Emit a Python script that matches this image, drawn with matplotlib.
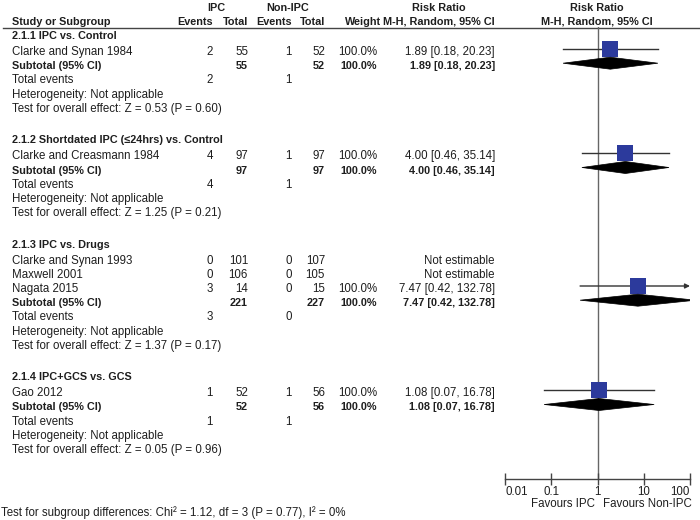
import numpy as np
import matplotlib
matplotlib.use("Agg")
import matplotlib.pyplot as plt
from matplotlib.patches import Polygon
from matplotlib.ticker import NullLocator

# ---------------- data ----------------
group_titles = ["2.1.1 IPC vs. Control",
                "2.1.2 Shortdated IPC (\u226424hrs) vs. Control",
                "2.1.3 IPC vs. Drugs",
                "2.1.4 IPC+GCS vs. GCS"]
study_names = ["Clarke and Synan 1984", "Clarke and Creasmann 1984",
               "Clarke and Synan 1993", "Maxwell 2001", "Nagata 2015", "Gao 2012"]
study_group = [0, 1, 2, 2, 2, 3]
ipc_events = [2, 4, 0, 0, 3, 1]
ipc_total = [55, 97, 101, 106, 14, 52]
non_events = [1, 1, 0, 0, 0, 1]
non_total = [52, 97, 107, 105, 15, 56]
study_weight = [100.0, 100.0, None, None, 100.0, 100.0]
study_rr = [1.89, 4.00, None, None, 7.47, 1.08]
study_lo = [0.18, 0.46, None, None, 0.42, 0.07]
study_hi = [20.23, 35.14, None, None, 132.78, 16.78]

sub_ipc_total = [55, 97, 221, 52]
sub_non_total = [52, 97, 227, 56]
sub_ipc_events = [2, 4, 3, 1]
sub_non_events = [1, 1, 0, 1]
sub_weight = [100.0, 100.0, 100.0, 100.0]
sub_rr = [1.89, 4.00, 7.47, 1.08]
sub_lo = [0.18, 0.46, 0.42, 0.07]
sub_hi = [20.23, 35.14, 132.78, 16.78]
z_vals = ["0.53", "1.25", "1.37", "0.05"]
p_vals = ["0.60", "0.21", "0.17", "0.96"]

tick_values = [0.01, 0.1, 1, 10, 100]
tick_labels = ["0.01", "0.1", "1", "10", "100"]
subgroup_test = "Test for subgroup differences: Chi\u00b2 = 1.12, df = 3 (P = 0.77), I\u00b2 = 0%"

# ---------------- style ----------------
FS = 8.3
FSB = 7.8
TXT = "#1e1e1e"
SQ = "#2c3a9c"
plt.rcParams['font.family'] = ['Liberation Sans', 'DejaVu Sans']

W, H = 700, 520
fig = plt.figure(figsize=(W / 100, H / 100), dpi=100)
bg = fig.add_axes([0, 0, 1, 1])
bg.set_xlim(0, W)
bg.set_ylim(H, 0)
bg.axis("off")

# forest axes (pixel-mapped vertically)
px_l, px_r, px_t, px_b = 505, 690, 27, 479
ax = fig.add_axes([px_l / W, (H - px_b) / H, (px_r - px_l) / W, (px_b - px_t) / H])
ax.set_xscale("log")
ax.set_xlim(0.01, 100)
ax.set_ylim(px_b, px_t)
ax.patch.set_alpha(0)
for s in ["top", "right", "left"]:
    ax.spines[s].set_visible(False)
ax.spines["bottom"].set_color("#444444")
ax.spines["bottom"].set_linewidth(1)
ax.set_yticks([])
ax.set_xticks(tick_values)
ax.set_xticklabels(tick_labels)
ax.xaxis.set_minor_locator(NullLocator())
ax.tick_params(axis="x", direction="inout", length=8, width=1, color="#444444",
               labelsize=FS, labelcolor=TXT, pad=1)
lbls = ax.get_xticklabels()
lbls[0].set_ha("left")
lbls[-1].set_ha("right")
ax.axvline(1, color="#666666", lw=1, zorder=1)

# column positions (right edges)
X_LEFT = 12
X_IPC_E, X_IPC_T, X_NON_E, X_NON_T, X_W, X_RR = 213, 248, 292, 325, 377, 495


def txt(x, y, s, ha="left", bold=False, **kw):
    bg.text(x, y, s, ha=ha, va="center", fontsize=FSB if bold else FS, color=TXT,
            fontweight="bold" if bold else "normal", **kw)


# headers
txt(216, 8, "IPC", ha="center", bold=True)
txt(288, 8, "Non-IPC", ha="center", bold=True)
txt(439, 8, "Risk Ratio", ha="center", bold=True)
txt(597, 8, "Risk Ratio", ha="center", bold=True)
txt(X_LEFT, 22, "Study or Subgroup", bold=True)
txt(X_IPC_E, 22, "Events", ha="right", bold=True)
txt(X_IPC_T, 22, "Total", ha="right", bold=True)
txt(X_NON_E, 22, "Events", ha="right", bold=True)
txt(X_NON_T, 22, "Total", ha="right", bold=True)
txt(381, 22, "Weight", ha="right", bold=True)
txt(X_RR, 22, "M-H, Random, 95% CI", ha="right", bold=True)
txt(597, 22, "M-H, Random, 95% CI", ha="center", bold=True)
bg.plot([3, 700], [27.5, 27.5], color="#444444", lw=1)

MK_OFF = -3
y = 36.0
for g, title in enumerate(group_titles):
    txt(X_LEFT, y, title, bold=True)
    y += 16
    for i, name in enumerate(study_names):
        if study_group[i] != g:
            continue
        txt(X_LEFT, y, name)
        txt(X_IPC_E, y, str(ipc_events[i]), ha="right")
        txt(X_IPC_T, y, str(ipc_total[i]), ha="right")
        txt(X_NON_E, y, str(non_events[i]), ha="right")
        txt(X_NON_T, y, str(non_total[i]), ha="right")
        if study_rr[i] is None:
            txt(X_RR, y, "Not estimable", ha="right")
        else:
            txt(X_W, y, f"{study_weight[i]:.1f}%", ha="right")
            txt(X_RR, y, f"{study_rr[i]:.2f} [{study_lo[i]:.2f}, {study_hi[i]:.2f}]", ha="right")
            ym = y + MK_OFF
            if study_hi[i] > 100:
                ax.annotate("", xy=(100, ym), xytext=(study_lo[i], ym),
                            arrowprops=dict(arrowstyle="-|>", lw=1, color="#333333",
                                            mutation_scale=7, shrinkA=0, shrinkB=0),
                            annotation_clip=False, zorder=2)
            else:
                ax.plot([study_lo[i], study_hi[i]], [ym, ym], color="#333333", lw=1, zorder=2)
            ax.plot([study_rr[i]], [ym], marker="s", markersize=12.2, color=SQ,
                    markeredgewidth=0, zorder=3, clip_on=False)
        y += 14.2
    # subtotal
    txt(X_LEFT, y, "Subtotal (95% CI)", bold=True)
    txt(X_IPC_T, y, str(sub_ipc_total[g]), ha="right", bold=True)
    txt(X_NON_T, y, str(sub_non_total[g]), ha="right", bold=True)
    txt(X_W, y, f"{sub_weight[g]:.1f}%", ha="right", bold=True)
    txt(X_RR, y, f"{sub_rr[g]:.2f} [{sub_lo[g]:.2f}, {sub_hi[g]:.2f}]", ha="right", bold=True)
    ym = y + MK_OFF
    dia = Polygon([(sub_lo[g], ym), (sub_rr[g], ym - 6), (sub_hi[g], ym), (sub_rr[g], ym + 6)],
                  closed=True, facecolor="black", edgecolor="black", lw=0.5, zorder=4)
    ax.add_patch(dia)
    y += 14.2
    txt(X_LEFT, y, "Total events")
    txt(X_IPC_E, y, str(sub_ipc_events[g]), ha="right")
    txt(X_NON_E, y, str(sub_non_events[g]), ha="right")
    y += 14.2
    txt(X_LEFT, y, "Heterogeneity: Not applicable")
    y += 14.2
    txt(X_LEFT, y, f"Test for overall effect: Z = {z_vals[g]} (P = {p_vals[g]})")
    y += 31.5

txt(595, 504, "Favours IPC", ha="right")
txt(603, 504, "Favours Non-IPC", ha="left")
txt(1, 513, subgroup_test)

fig.savefig("out.png", dpi=100)
